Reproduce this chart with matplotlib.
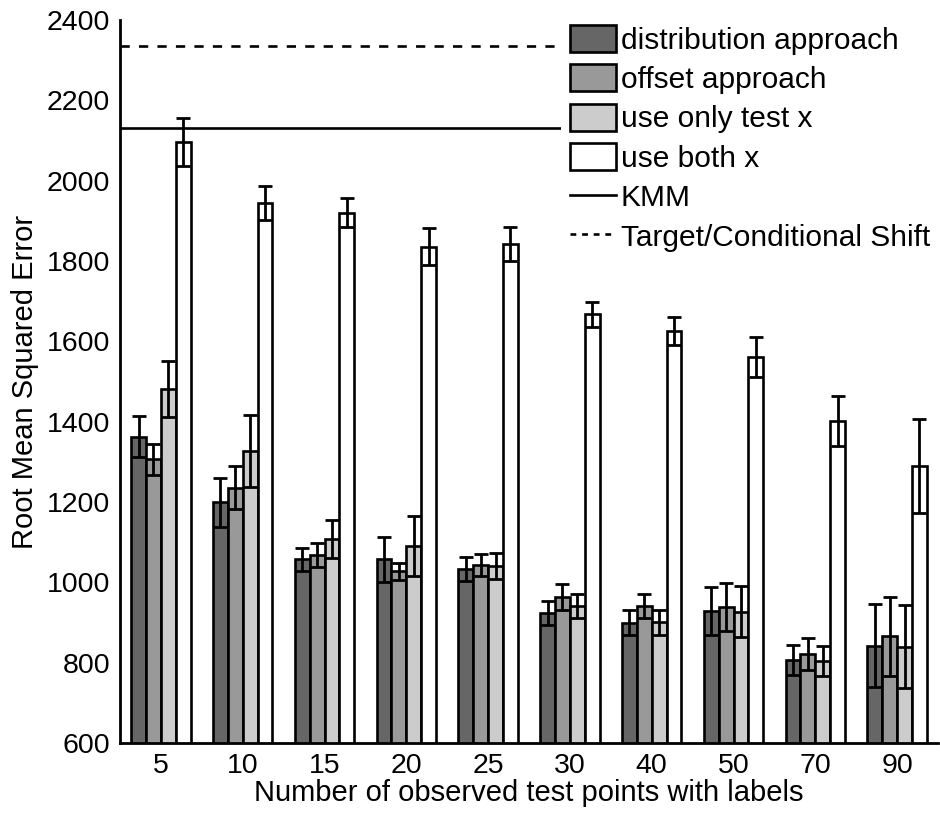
import numpy as np
import matplotlib
matplotlib.use("Agg")
import matplotlib.pyplot as plt
from matplotlib.lines import Line2D

plt.rcParams['font.family'] = ['Liberation Sans', 'DejaVu Sans']

# données
n_labels = ["5", "10", "15", "20", "25", "30", "40", "50", "70", "90"]

distrib = [1363, 1199, 1057, 1058, 1033, 923, 900, 929, 807, 842]
distrib_err = [52, 61, 28, 56, 29, 30, 31, 60, 38, 103]

offset = [1306, 1236, 1067, 1027, 1043, 963, 941, 938, 822, 866]
offset_err = [38, 54, 30, 20, 28, 32, 31, 60, 40, 98]

only_test = [1481, 1327, 1107, 1091, 1041, 940, 901, 927, 805, 840]
only_test_err = [70, 90, 47, 75, 32, 30, 31, 63, 37, 103]

both_x = [2097, 1944, 1920, 1836, 1842, 1667, 1626, 1562, 1402, 1290]
both_x_err = [60, 42, 36, 45, 42, 31, 34, 50, 62, 117]

kmm = 2131
target_shift = 2335

series = [("distribution approach", distrib, distrib_err, "#666666"),
          ("offset approach", offset, offset_err, "#999999"),
          ("use only test x", only_test, only_test_err, "#cccccc"),
          ("use both x", both_x, both_x_err, "white")]

fig = plt.figure(figsize=(9.4, 8.13), dpi=100)
ax = fig.add_axes([120/940, 1-743/813, 818/940, 723/813])

x = np.arange(1, len(n_labels)+1)
w = 0.181
handles = []
for i, (lab, vals, errs, col) in enumerate(series):
    pos = x + (i-1.5)*w
    b = ax.bar(pos, vals, w, bottom=0, color=col, edgecolor="black",
               linewidth=1.9, label=lab, zorder=2)
    ax.errorbar(pos, vals, yerr=errs, fmt="none", ecolor="black",
                elinewidth=2, capsize=4.7, capthick=2, zorder=3)
    handles.append(b)

ax.axhline(kmm, color="black", linewidth=1.9, zorder=1)
ax.axhline(target_shift, color="black", linewidth=1.9, linestyle=(0, (3.5, 3.5)), zorder=1)
handles.append(Line2D([], [], color="black", linewidth=1.9))
handles.append(Line2D([], [], color="black", linewidth=1.9, linestyle=(0, (2.2, 2.2))))
labels = [s[0] for s in series] + ["KMM", "Target/Conditional Shift"]

ax.set_xlim(0.5, 10.5)
ax.set_ylim(600, 2400)
ax.set_xticks(x)
ax.set_xticklabels(n_labels)
ax.set_yticks(np.arange(600, 2401, 200))
ax.tick_params(length=0, labelsize=20.5, pad=7)
for s in ["top", "right"]:
    ax.spines[s].set_visible(False)
for s in ["left", "bottom"]:
    ax.spines[s].set_linewidth(2)
    ax.spines[s].set_zorder(4)

ax.set_xlabel("Number of observed test points with labels", fontsize=21, labelpad=0)
ax.set_ylabel("Root Mean Squared Error", fontsize=21, labelpad=6)

leg = ax.legend(handles, labels, loc="upper left", mode="expand",
                bbox_to_anchor=(561/940, 0, 379/940, 1-16/813), bbox_transform=fig.transFigure,
                fontsize=21.5, frameon=True, facecolor="white", edgecolor="none",
                framealpha=1, fancybox=False, borderpad=0.3, borderaxespad=0,
                handlelength=1.55, handleheight=1.0, handletextpad=0.15,
                labelspacing=0.33)

fig.savefig("out.png", dpi=100)
